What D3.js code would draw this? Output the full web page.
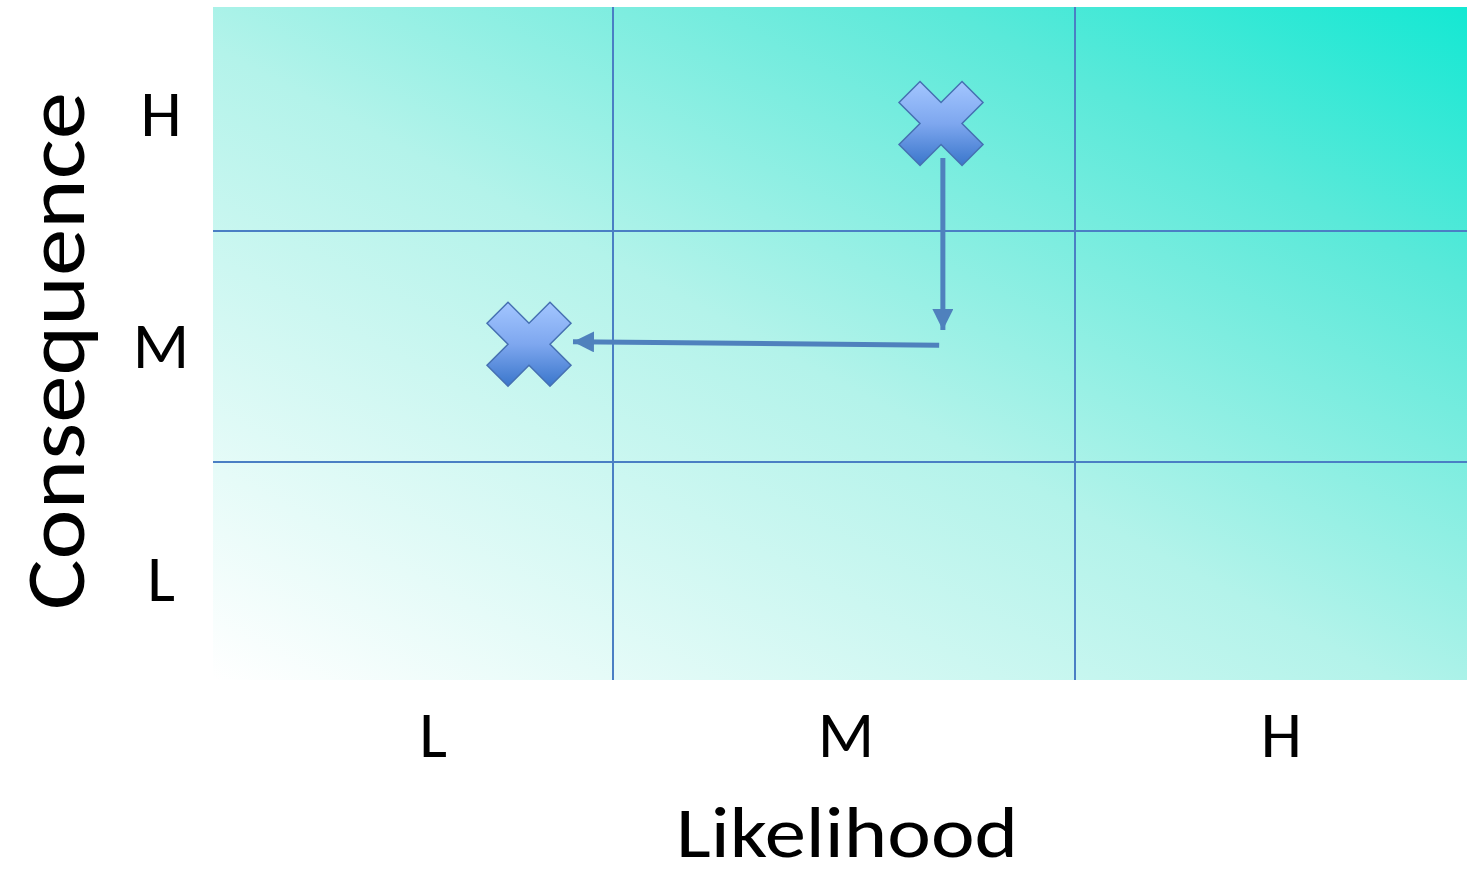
<!DOCTYPE html>
<html><head><meta charset="utf-8">
<script src="https://cdn.jsdelivr.net/npm/d3@7/dist/d3.min.js"></script>
<style>html,body{margin:0;padding:0;background:#fff;}svg{display:block;}</style>
</head><body>
<script>
// Data
const likelihoodLevels = ["L", "M", "H"];
const consequenceLevels = ["L", "M", "H"];
// tick positions in category units (0..3)
const xTickPos = [0.55, 1.504, 2.526];
const yTickPos = [0.47, 1.506, 2.527];
// risk points in category units
const riskX = [1.71, 0.79];
const riskY = [2.48, 1.51];
// movement arrows [x1,y1,x2,y2] in category units
const arrowX1 = [1.714, 1.706];
const arrowY1 = [2.326, 1.505];
const arrowX2 = [1.714, 0.90];
const arrowY2 = [1.571, 1.521];

const W = 1467, H = 876;
const svg = d3.select("body").append("svg").attr("width", W).attr("height", H);
const FONT = "Carlito, Calibri, Lato, 'Open Sans', sans-serif";

const x = d3.scaleLinear().domain([0, 1, 2, 3]).range([213, 613, 1075, 1467]);
const y = d3.scaleLinear().domain([0, 1, 2, 3]).range([680, 462, 231, 7]);

const defs = svg.append("defs");
const bg = defs.append("linearGradient").attr("id", "bg")
  .attr("x1", 0).attr("y1", 1).attr("x2", 1).attr("y2", 0);
[[0, "#ffffff"], [0.47, "#b3f3ea"], [0.79, "#5ae9d9"], [1, "#14e8d3"]]
  .forEach(([o, c]) => bg.append("stop").attr("offset", o).attr("stop-color", c));
const mg = defs.append("linearGradient").attr("id", "mk")
  .attr("x1", 0).attr("y1", 0).attr("x2", 0).attr("y2", 1);
[[0, "#a3c6ff"], [0.5, "#7ea7ef"], [1, "#3a76cb"]]
  .forEach(([o, c]) => mg.append("stop").attr("offset", o).attr("stop-color", c));
defs.append("marker").attr("id", "ah").attr("viewBox", "0 0 10 10")
  .attr("refX", 10).attr("refY", 5).attr("markerWidth", 4.2).attr("markerHeight", 4.2)
  .attr("markerUnits", "strokeWidth").attr("orient", "auto")
  .append("path").attr("d", "M0,0L10,5L0,10Z").attr("fill", "#4f81bd");

// background
svg.append("rect").attr("x", x(0)).attr("y", y(3))
  .attr("width", x(3) - x(0)).attr("height", y(0) - y(3)).attr("fill", "url(#bg)");

// grid
const gridColor = "#4a7fc4";
svg.append("g").selectAll("line").data([1, 2]).join("line")
  .attr("x1", d => x(d)).attr("x2", d => x(d)).attr("y1", y(3)).attr("y2", y(0))
  .attr("stroke", gridColor).attr("stroke-width", 2);
svg.append("g").selectAll("line").data([1, 2]).join("line")
  .attr("y1", d => y(d)).attr("y2", d => y(d)).attr("x1", x(0)).attr("x2", x(3))
  .attr("stroke", gridColor).attr("stroke-width", 2);

// tick labels
svg.append("g").selectAll("text").data(likelihoodLevels).join("text")
  .attr("x", (d, i) => x(xTickPos[i])).attr("y", 757)
  .attr("text-anchor", "middle").attr("font-family", FONT).attr("font-size", 66)
  .attr("fill", "#000").text(d => d);
svg.append("g").selectAll("text").data(consequenceLevels).join("text")
  .attr("x", 161).attr("y", (d, i) => y(yTickPos[i]) + 23)
  .attr("text-anchor", "middle").attr("font-family", FONT).attr("font-size", 66)
  .attr("fill", "#000").text(d => d);

// axis titles
svg.append("text").attr("x", 847).attr("y", 857).attr("text-anchor", "middle")
  .attr("font-family", FONT).attr("font-size", 72).attr("fill", "#000")
  .attr("textLength", 342).attr("lengthAdjust", "spacingAndGlyphs").text("Likelihood");
svg.append("text").attr("transform", "translate(84,351) rotate(-90)")
  .attr("text-anchor", "middle").attr("font-family", FONT).attr("font-size", 84)
  .attr("fill", "#000").attr("textLength", 518).attr("lengthAdjust", "spacingAndGlyphs")
  .text("Consequence");

// arrows
svg.append("g").selectAll("line").data(arrowX1).join("line")
  .attr("x1", (d, i) => x(arrowX1[i])).attr("y1", (d, i) => y(arrowY1[i]))
  .attr("x2", (d, i) => x(arrowX2[i])).attr("y2", (d, i) => y(arrowY2[i]))
  .attr("stroke", "#4f81bd").attr("stroke-width", 5).attr("marker-end", "url(#ah)");

// X markers
const s = 42, h = 21;
const cross = [[-h,-s],[0,-h],[h,-s],[s,-h],[h,0],[s,h],[h,s],[0,h],[-h,s],[-s,h],[-h,0],[-s,-h]];
svg.append("g").selectAll("path").data(riskX).join("path")
  .attr("transform", (d, i) => `translate(${x(riskX[i])},${y(riskY[i])})`)
  .attr("d", "M" + cross.map(p => p.join(",")).join("L") + "Z")
  .attr("fill", "url(#mk)").attr("stroke", "#4670b2").attr("stroke-width", 1.5)
  .attr("stroke-linejoin", "miter");
</script>
</body></html>
